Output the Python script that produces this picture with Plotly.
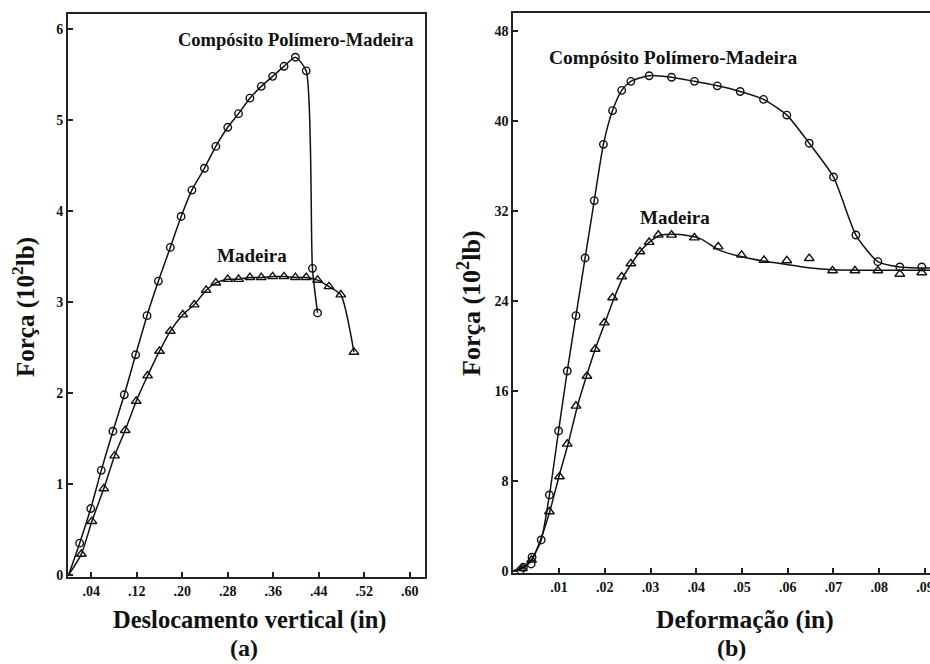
import plotly.graph_objects as go

# ---------------- (a) Deslocamento vertical ----------------
comp_a_x = [0.0195, 0.039, 0.0575, 0.078, 0.098, 0.118, 0.138, 0.158, 0.179, 0.198,
            0.217, 0.239, 0.259, 0.280, 0.299, 0.319, 0.339, 0.359, 0.379, 0.399,
            0.418, 0.429, 0.438]
comp_a_y = [0.35, 0.73, 1.15, 1.58, 1.98, 2.42, 2.85, 3.23, 3.60, 3.94,
            4.23, 4.47, 4.71, 4.92, 5.07, 5.24, 5.37, 5.48, 5.59, 5.69,
            5.54, 3.37, 2.88]
wood_a_x = [0.0225, 0.041, 0.062, 0.081, 0.0996, 0.119, 0.139, 0.160, 0.179, 0.201,
            0.221, 0.242, 0.259, 0.280, 0.299, 0.319, 0.339, 0.359, 0.379, 0.399,
            0.418, 0.438, 0.458, 0.479, 0.502]
wood_a_y = [0.23, 0.59, 0.95, 1.31, 1.59, 1.91, 2.19, 2.46, 2.68, 2.86,
            2.97, 3.13, 3.21, 3.25, 3.25, 3.27, 3.27, 3.28, 3.28, 3.27,
            3.27, 3.24, 3.17, 3.08, 2.45]
origin_x = [0.0]
origin_y = [0.0]

# ---------------- (b) Deformação ----------------
comp_b_x = [0.0016, 0.0022, 0.0039, 0.0041, 0.0061, 0.0079, 0.0099, 0.0118, 0.0137,
            0.0157, 0.0177, 0.0197, 0.0217, 0.0237, 0.0257, 0.0297, 0.0346, 0.0396,
            0.0446, 0.0496, 0.0547, 0.0598, 0.0647, 0.0700, 0.0749, 0.0797, 0.0845, 0.0893]
comp_b_y = [0.05, 0.3, 0.6, 1.2, 2.73, 6.73, 12.42, 17.75, 22.67,
            27.8, 32.9, 37.9, 40.9, 42.7, 43.5, 44.0, 43.86, 43.5,
            43.1, 42.6, 41.9, 40.5, 38.0, 35.0, 29.84, 27.47, 27.0, 27.0]
comp_b_curve_x = [0.0, 0.002, 0.004, 0.0061, 0.0079, 0.0099, 0.0118, 0.0137,
                  0.0157, 0.0177, 0.0197, 0.0217, 0.0237, 0.0257, 0.0297, 0.0346, 0.0396,
                  0.0446, 0.0496, 0.0547, 0.0598, 0.0647, 0.0700, 0.0749, 0.0797, 0.0845, 0.0911]
comp_b_curve_y = [0.0, 0.3, 1.0, 2.73, 6.73, 12.42, 17.75, 22.67,
                  27.8, 32.9, 37.9, 40.9, 42.7, 43.5, 44.0, 43.86, 43.5,
                  43.1, 42.6, 41.9, 40.5, 38.0, 35.0, 29.84, 27.47, 27.0, 26.9]
wood_b_x = [0.002, 0.004, 0.0079, 0.0101, 0.0118, 0.0137, 0.0161, 0.0179, 0.0199,
            0.0217, 0.0237, 0.0257, 0.0277, 0.0297, 0.0317, 0.0346, 0.0396, 0.0448,
            0.0499, 0.0548, 0.0598, 0.0647, 0.0698, 0.0747, 0.0797, 0.0845, 0.0893]
wood_b_y = [0.2, 0.95, 5.25, 8.36, 11.26, 14.64, 17.3, 19.7, 22.04,
            24.27, 26.13, 27.3, 28.36, 29.2, 29.84, 29.84, 29.6, 28.8,
            28.06, 27.6, 27.56, 27.77, 26.67, 26.67, 26.67, 26.37, 26.5]
wood_b_curve_x = [0.0, 0.002, 0.004, 0.006, 0.008, 0.010, 0.012, 0.014, 0.016, 0.018,
                  0.020, 0.022, 0.024, 0.026, 0.028, 0.030, 0.032, 0.035, 0.038, 0.041,
                  0.045, 0.050, 0.055, 0.060, 0.065, 0.070, 0.080, 0.0911]
wood_b_curve_y = [0.0, 0.2, 0.9, 2.8, 5.3, 8.4, 11.3, 14.6, 17.3, 19.8,
                  22.0, 24.2, 26.1, 27.4, 28.5, 29.3, 29.8, 29.9, 29.8, 29.5,
                  28.5, 27.9, 27.5, 27.2, 26.9, 26.75, 26.7, 26.7]

a_tickvals = [0.04, 0.12, 0.20, 0.28, 0.36, 0.44, 0.52, 0.60]
a_ticktext = [".04", ".12", ".20", ".28", ".36", ".44", ".52", ".60"]
a_yvals = [0, 1, 2, 3, 4, 5, 6]
b_tickvals = [0.01, 0.02, 0.03, 0.04, 0.05, 0.06, 0.07, 0.08, 0.09]
b_ticktext = [".01", ".02", ".03", ".04", ".05", ".06", ".07", ".08", ".09"]
b_yvals = [0, 8, 16, 24, 32, 40, 48]

INK = "#111111"
FONT = "'Liberation Serif', 'DejaVu Serif', serif"
W, H = 930, 664

fig = go.Figure()
line_style = dict(color=INK, width=1.5, shape="spline", smoothing=0.6)
circ = dict(symbol="circle-open", size=7.5, color=INK, line=dict(width=1.4, color=INK))
tri = dict(symbol="triangle-up-open", size=8.5, color=INK, line=dict(width=1.4, color=INK))

# (a)
fig.add_trace(go.Scatter(x=origin_x + comp_a_x, y=origin_y + comp_a_y, mode="lines",
                         line=line_style, xaxis="x", yaxis="y", showlegend=False))
fig.add_trace(go.Scatter(x=origin_x + wood_a_x, y=origin_y + wood_a_y, mode="lines",
                         line=line_style, xaxis="x", yaxis="y", showlegend=False))
fig.add_trace(go.Scatter(x=comp_a_x, y=comp_a_y, mode="markers", marker=circ,
                         xaxis="x", yaxis="y", showlegend=False))
fig.add_trace(go.Scatter(x=wood_a_x, y=wood_a_y, mode="markers", marker=tri,
                         xaxis="x", yaxis="y", showlegend=False))
# (b)
fig.add_trace(go.Scatter(x=comp_b_curve_x, y=comp_b_curve_y, mode="lines",
                         line=line_style, xaxis="x2", yaxis="y2", showlegend=False))
fig.add_trace(go.Scatter(x=wood_b_curve_x, y=wood_b_curve_y, mode="lines",
                         line=line_style, xaxis="x2", yaxis="y2", showlegend=False))
fig.add_trace(go.Scatter(x=comp_b_x, y=comp_b_y, mode="markers", marker=circ,
                         xaxis="x2", yaxis="y2", showlegend=False))
fig.add_trace(go.Scatter(x=wood_b_x, y=wood_b_y, mode="markers", marker=tri,
                         xaxis="x2", yaxis="y2", showlegend=False))

tickfont = dict(family=FONT, size=14, color=INK, weight="bold")
ax_common = dict(showgrid=False, zeroline=False, showline=True, linecolor="#222222",
                 linewidth=2, ticks="inside", ticklen=5, tickwidth=2, tickcolor="#222222",
                 tickfont=tickfont, automargin=False, fixedrange=True,
                 ticklabeloverflow="allow")

def px_x(p):
    return p / W

def px_y(p):
    return 1 - p / H

fig.update_layout(
    width=W, height=H, margin=dict(l=0, r=0, t=0, b=0),
    paper_bgcolor="white", plot_bgcolor="white",
    font=dict(family=FONT, color=INK),
    xaxis=dict(domain=[px_x(68), px_x(425)], range=[-0.001, 0.627], anchor="y",
               tickmode="array", tickvals=a_tickvals, ticktext=a_ticktext, mirror=True,
               **ax_common),
    yaxis=dict(domain=[px_y(577), px_y(14)], range=[-0.022, 6.165], anchor="x",
               tickmode="array", tickvals=a_yvals, ticktext=[str(v) for v in a_yvals],
               mirror=True, **ax_common),
    xaxis2=dict(domain=[px_x(513.3), 1.0], range=[0.0, 0.0911], anchor="y2",
                tickmode="array", tickvals=b_tickvals, ticktext=b_ticktext, mirror=True,
                **ax_common),
    yaxis2=dict(domain=[px_y(572.7), px_y(13.3)], range=[-0.18, 49.55], anchor="x2",
                tickmode="array", tickvals=b_yvals, ticktext=[str(v) for v in b_yvals],
                mirror=False, **ax_common),
)

def ann(text, xpx, ypx, size, angle=0):
    fig.add_annotation(text="<b>" + text + "</b>", x=px_x(xpx), y=px_y(ypx),
                       xref="paper", yref="paper",
                       showarrow=False, xanchor="center", yanchor="middle", textangle=angle,
                       font=dict(family=FONT, size=size, color=INK))

ann("Compósito Polímero-Madeira", 296, 40, 18.5)
ann("Madeira", 252, 255, 19)
ann("Compósito Polímero-Madeira", 673, 58, 19.5)
ann("Madeira", 675, 217, 19)
ann("Força (10<sup>2</sup>lb)", 23, 307, 25, -90)
ann("Força (10<sup>2</sup>lb)", 469, 303, 26, -90)
ann("Deslocamento vertical (in)", 250, 620, 24.5)
ann("Deformação (in)", 745, 619, 25.5)
ann("(a)", 244, 648, 24)
ann("(b)", 731, 648, 24)

fig.write_html("out.html")
